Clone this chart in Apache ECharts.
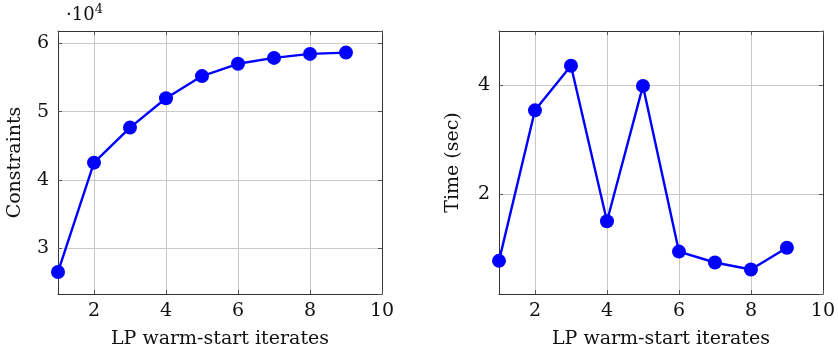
<!DOCTYPE html>
<html>
<head>
<meta charset="utf-8">
<script src="https://cdn.jsdelivr.net/npm/echarts@6/dist/echarts.min.js"></script>
<style>
  html, body { margin: 0; padding: 0; background: #fff; }
  #main { width: 838px; height: 355px; }
</style>
</head>
<body>
<div id="main"></div>
<script>
// iterates on the x axis
const iterates = [1, 2, 3, 4, 5, 6, 7, 8, 9];
// left panel: number of constraints
const constraints = [26530, 42530, 47660, 51960, 55200, 57000, 57860, 58450, 58640];
// right panel: time in seconds
const times = [0.77, 3.54, 4.36, 1.50, 3.99, 0.94, 0.74, 0.61, 1.01];

const xTitle = 'LP warm-start iterates';
const leftTitle = 'Constraints';
const rightTitle = 'Time (sec)';

const font = 'DejaVu Serif';
const fsize = 19;
const blue = '#0000ff';

var myChart = echarts.init(document.getElementById('main'), null, { renderer: 'canvas' });

// one axis of the box; labels only on bottom/left
function xAx(grid, pos, labels) {
  return {
    type: 'value', gridIndex: grid, position: pos,
    min: 1, max: 10, splitNumber: 5,
    name: labels ? xTitle : '', nameLocation: 'middle', nameGap: 36,
    nameTextStyle: { fontFamily: font, fontSize: fsize, color: '#111' },
    axisLine: { show: true, onZero: false, lineStyle: { color: '#333', width: 1 } },
    axisTick: { show: true, inside: true, length: 4, lineStyle: { color: '#555' } },
    axisLabel: { show: labels, showMinLabel: false, margin: 8,
      fontFamily: font, fontSize: fsize, color: '#111' },
    splitLine: { show: labels, lineStyle: { color: '#c8c8c8', width: 1 } }
  };
}
function yAx(grid, pos, labels, min, max, split, title, fmt, gap) {
  return {
    type: 'value', gridIndex: grid, position: pos,
    min: min, max: max, splitNumber: split,
    name: labels ? title : '', nameLocation: 'middle', nameGap: gap,
    nameTextStyle: { fontFamily: font, fontSize: fsize, color: '#111' },
    axisLine: { show: true, onZero: false, lineStyle: { color: '#333', width: 1 } },
    axisTick: { show: true, inside: true, length: 4, lineStyle: { color: '#555' } },
    axisLabel: { show: labels, showMinLabel: false, showMaxLabel: false, margin: 9,
      fontFamily: font, fontSize: fsize, color: '#111', formatter: fmt },
    splitLine: { show: labels, lineStyle: { color: '#c8c8c8', width: 1 } }
  };
}

const leftData = iterates.map((x, i) => [x, constraints[i]]);
const rightData = iterates.map((x, i) => [x, times[i]]);

myChart.setOption({
  animation: false,
  grid: [
    { left: 58, right: 456, top: 31, bottom: 61 },
    { left: 499, right: 14, top: 31, bottom: 61 }
  ],
  xAxis: [
    xAx(0, 'bottom', true), xAx(0, 'top', false),
    xAx(1, 'bottom', true), xAx(1, 'top', false)
  ],
  yAxis: [
    yAx(0, 'left', true, 23300, 61800, 4, leftTitle, v => String(v / 10000), 33),
    yAx(0, 'right', false, 23300, 61800, 4, '', null, 0),
    yAx(1, 'left', true, 0.16, 5.0, 3, rightTitle, v => String(v), 36),
    yAx(1, 'right', false, 0.16, 5.0, 3, '', null, 0)
  ],
  graphic: [{
    type: 'text', left: 66, top: 3,
    style: {
      text: '{a|·10}{b|4}',
      rich: {
        a: { fontFamily: font, fontSize: 18, fill: '#111', verticalAlign: 'bottom' },
        b: { fontFamily: font, fontSize: 13, fill: '#111', padding: [0, 0, 8, 0] }
      }
    }
  }],
  series: [
    {
      type: 'line', xAxisIndex: 0, yAxisIndex: 0, data: leftData,
      symbol: 'circle', symbolSize: 14, showAllSymbol: true,
      lineStyle: { color: blue, width: 2.4 }, itemStyle: { color: blue }
    },
    {
      type: 'line', xAxisIndex: 2, yAxisIndex: 2, data: rightData,
      symbol: 'circle', symbolSize: 14, showAllSymbol: true,
      lineStyle: { color: blue, width: 2.4 }, itemStyle: { color: blue }
    }
  ]
});
</script>
</body>
</html>
